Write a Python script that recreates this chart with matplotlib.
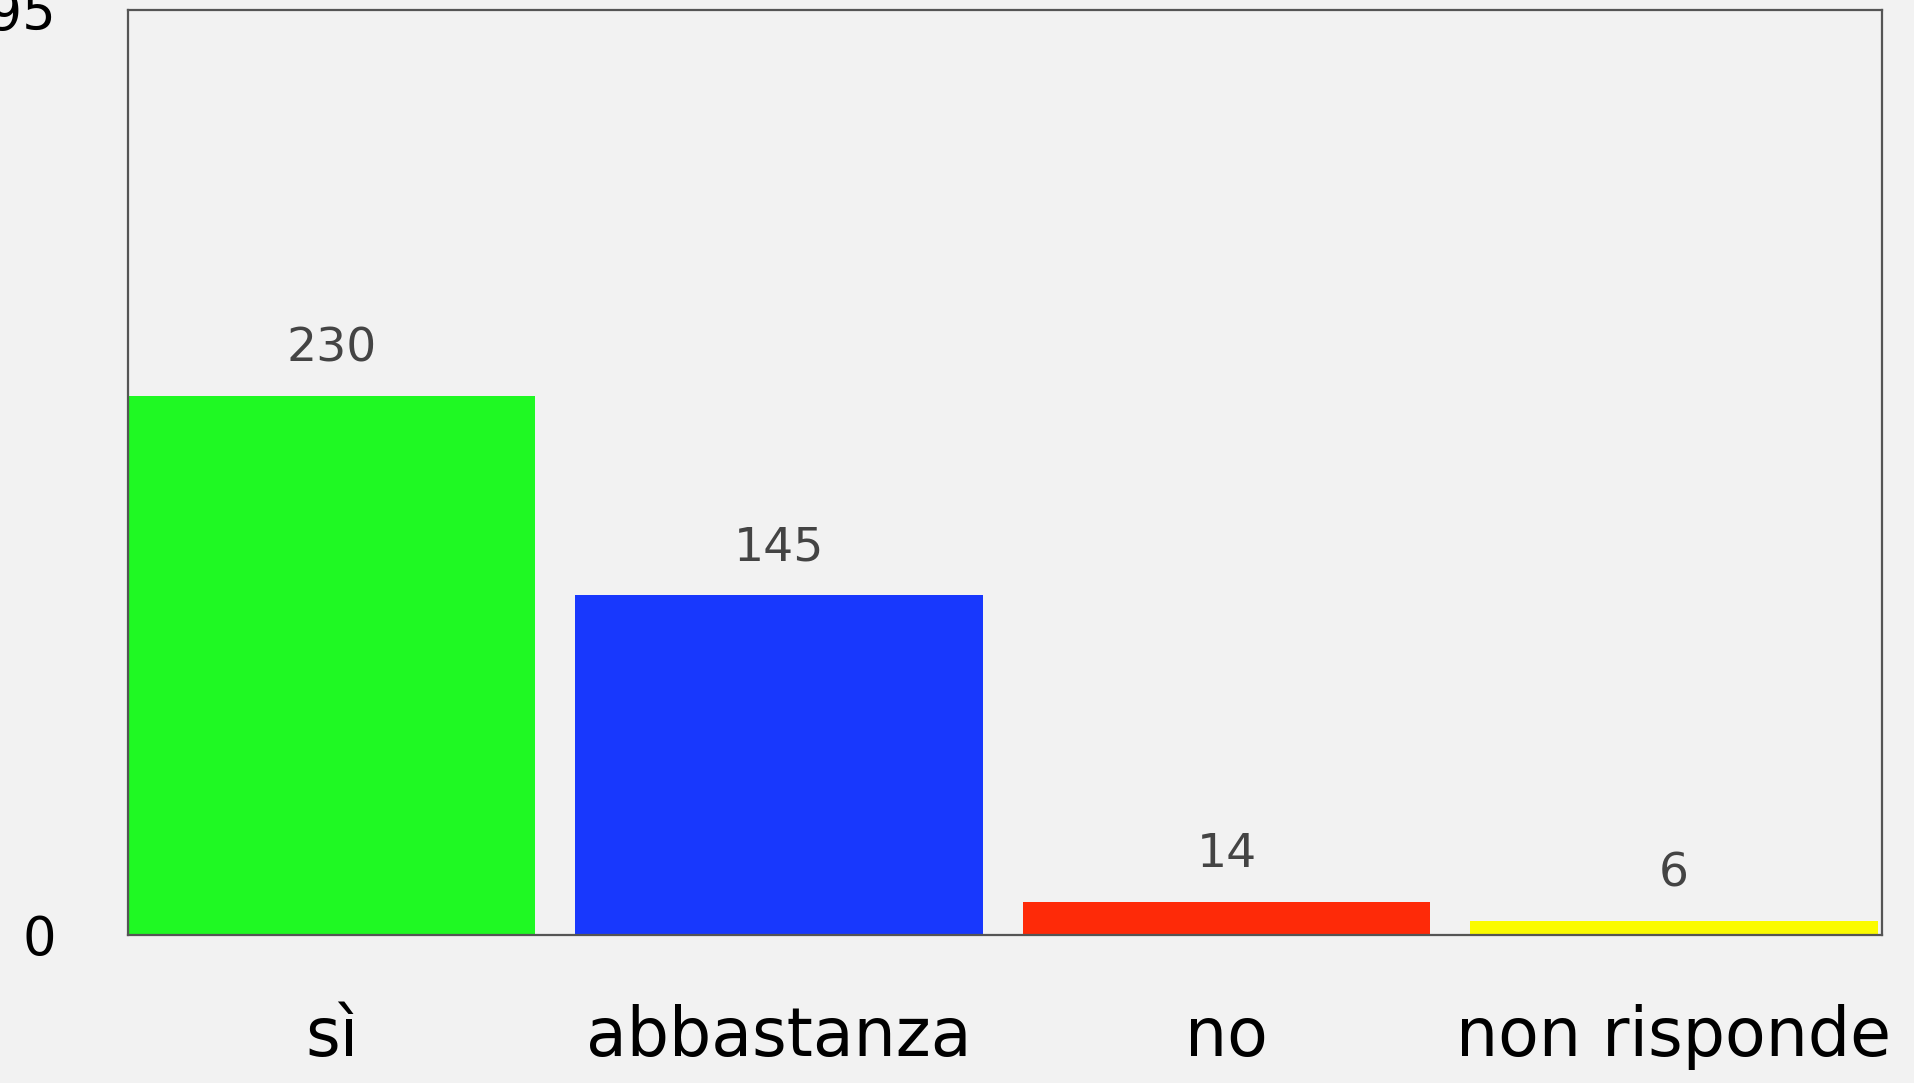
import matplotlib
matplotlib.use("Agg")
import matplotlib.pyplot as plt

categories = ["sì", "abbastanza", "no", "non risponde"]
values = [230, 145, 14, 6]
bar_colors = ["#1ff923", "#1838fd", "#fe2a08", "#fbfb00"]
y_ticks = [0, 395]

bg = "#f2f2f2"

fig = plt.figure(figsize=(19.14, 10.83), dpi=100, facecolor=bg)
ax = fig.add_axes([0.0669, 0.1367, 0.9164, 0.8541], facecolor=bg)

x = range(len(categories))
bars = ax.bar(x, values, width=0.91, color=bar_colors, zorder=2)

for rect, v in zip(bars, values):
    ax.annotate(str(v), (rect.get_x() + rect.get_width() / 2, v),
                xytext=(0, 34), textcoords="offset points",
                ha="center", va="center", fontsize=34, color="#444444")

ax.set_xlim(-0.455, 3.465)
ax.set_ylim(0, 395)
ax.set_xticks(list(x))
ax.set_xticklabels(categories, fontsize=48)
ax.set_yticks(y_ticks)
ax.set_yticklabels([str(t) for t in y_ticks], fontsize=38)
ax.tick_params(axis="both", length=0)
ax.tick_params(axis="y", pad=52)
ax.tick_params(axis="x", pad=50)

for s in ax.spines.values():
    s.set_color("#555555")
    s.set_linewidth(1.6)

fig.savefig("out.png", dpi=100, facecolor=bg)
